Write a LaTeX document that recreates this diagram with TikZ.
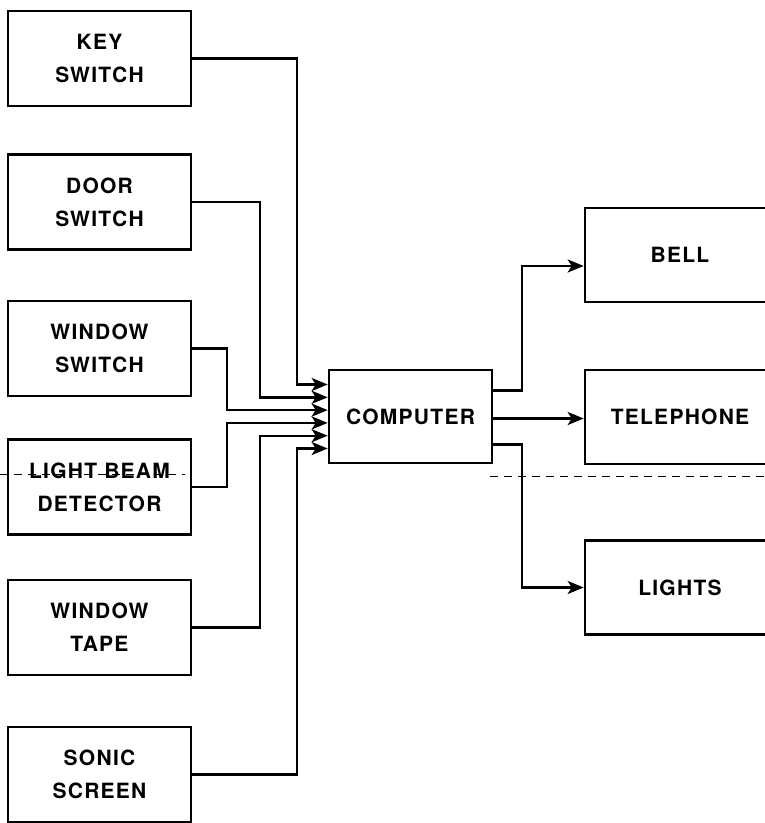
\documentclass[tikz,border=0pt]{standalone}
\usepackage{fontspec}
\setsansfont{TeX Gyre Heros}[LetterSpace=6]
\usetikzlibrary{arrows.meta,positioning}

\begin{document}
\begin{tikzpicture}[x=1pt,y=-1pt,
  font=\sffamily\bfseries\fontsize{21}{33}\selectfont,
  box/.style={draw,line width=2.6pt,align=center,inner sep=0pt},
  inbox/.style={box,minimum width=183pt,minimum height=95pt},
  outbox/.style={box,minimum width=190pt,minimum height=94pt},
  ar/.style={-{Stealth[length=16pt,width=13pt,inset=4pt]},line width=2.4pt}]
\useasboundingbox (0,0) rectangle (765,823);
\clip (0,0) rectangle (765,823);
% sensors
\node[inbox] (key)    at (99.5,58.5)  {KEY\\SWITCH};
\node[inbox] (door)   at (99.5,202)   {DOOR\\SWITCH};
\node[inbox] (winsw)  at (99.5,348.5) {WINDOW\\SWITCH};
\node[inbox] (beam)   at (99.5,487)   {LIGHT BEAM\\DETECTOR};
\node[inbox] (tape)   at (99.5,627.5) {WINDOW\\TAPE};
\node[inbox] (sonic)  at (99.5,774.5) {SONIC\\SCREEN};
% computer
\node[box,minimum width=163pt,minimum height=93pt] (comp) at (410.5,416.5) {COMPUTER};
% alarms
\node[outbox] (bell)   at (680,255)   {BELL};
\node[outbox] (tel)    at (680,417)   {TELEPHONE};
\node[outbox] (lights) at (680,587.5) {LIGHTS};
% inputs
\coordinate (in1) at ([yshift=32pt]comp.west);
\coordinate (in2) at ([yshift=19.2pt]comp.west);
\coordinate (in3) at ([yshift=6.4pt]comp.west);
\coordinate (in4) at ([yshift=-6.4pt]comp.west);
\coordinate (in5) at ([yshift=-19.2pt]comp.west);
\coordinate (in6) at ([yshift=-32pt]comp.west);
\coordinate (r1) at (297,0);
\coordinate (r2) at (260,0);
\coordinate (r3) at (227,0);
\draw[ar] (key.east)   -| (r1 |- in1) -- (in1);
\draw[ar] (door.east)  -| (r2 |- in2) -- (in2);
\draw[ar] (winsw.east) -| (r3 |- in3) -- (in3);
\draw[ar] (beam.east)  -| (r3 |- in4) -- (in4);
\draw[ar] (tape.east)  -| (r2 |- in5) -- (in5);
\draw[ar] (sonic.east) -| (r1 |- in6) -- (in6);
% outputs
\coordinate (o1) at ([yshift=26pt]comp.east);
\coordinate (o2) at ([yshift=-2pt]comp.east);
\coordinate (o3) at ([yshift=-28pt]comp.east);
\coordinate (rr) at (522,0);
\coordinate (bin) at ([yshift=-11pt]bell.west);
\draw[ar] (o1) -| (rr |- bin) -- (bin);
\draw[ar] (o2) -- (o2 -| tel.west);
\draw[ar] (o3) -| (rr |- lights.west) -- (lights.west);
% fold mark
\draw[line width=1pt,dash pattern=on 8pt off 6pt] (0,474) -- (185,474);
\draw[line width=1pt,dash pattern=on 8pt off 6pt] (490,476) -- (765,476);
\end{tikzpicture}
\end{document}
